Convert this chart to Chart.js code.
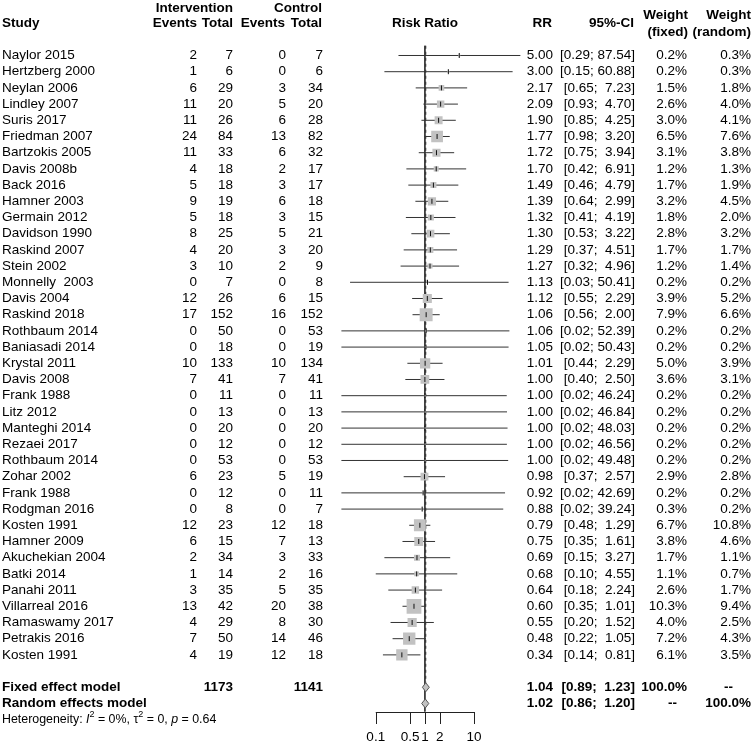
<!DOCTYPE html>
<html>
<head>
<meta charset="utf-8">
<script src="https://cdn.jsdelivr.net/npm/chart.js@4.4.1/dist/chart.umd.min.js"></script>
<style>
  html, body { margin: 0; padding: 0; background: #fff; }
  #wrap { width: 754px; height: 743px; position: relative; }
</style>
</head>
<body>
<div id="wrap"><canvas id="forest"></canvas></div>
<script>
// Study data, one entry per row (top to bottom)
const studies = ['Naylor 2015', 'Hertzberg 2000', 'Neylan 2006', 'Lindley 2007', 'Suris 2017', 'Friedman 2007',
  'Bartzokis 2005', 'Davis 2008b', 'Back 2016', 'Hamner 2003', 'Germain 2012', 'Davidson 1990', 'Raskind 2007',
  'Stein 2002', 'Monnelly  2003', 'Davis 2004', 'Raskind 2018', 'Rothbaum 2014', 'Baniasadi 2014', 'Krystal 2011',
  'Davis 2008', 'Frank 1988', 'Litz 2012', 'Manteghi 2014', 'Rezaei 2017', 'Rothbaum 2014', 'Zohar 2002',
  'Frank 1988', 'Rodgman 2016', 'Kosten 1991', 'Hamner 2009', 'Akuchekian 2004', 'Batki 2014', 'Panahi 2011',
  'Villarreal 2016', 'Ramaswamy 2017', 'Petrakis 2016', 'Kosten 1991'];
const evInt  = [2, 1, 6, 11, 11, 24, 11, 4, 5, 9, 5, 8, 4, 3, 0, 12, 17, 0, 0, 10, 7, 0, 0, 0, 0, 0, 6, 0, 0, 12, 6, 2, 1, 3, 13, 4, 7, 4];
const totInt = [7, 6, 29, 20, 26, 84, 33, 18, 18, 19, 18, 25, 20, 10, 7, 26, 152, 50, 18, 133, 41, 11, 13, 20, 12, 53, 23, 12, 8, 23, 15, 34, 14, 35, 42, 29, 50, 19];
const evCtl  = [0, 0, 3, 5, 6, 13, 6, 2, 3, 6, 3, 5, 3, 2, 0, 6, 16, 0, 0, 10, 7, 0, 0, 0, 0, 0, 5, 0, 0, 12, 7, 3, 2, 5, 20, 8, 14, 12];
const totCtl = [7, 6, 34, 20, 28, 82, 32, 17, 17, 18, 15, 21, 20, 9, 8, 15, 152, 53, 19, 134, 41, 11, 13, 20, 12, 53, 19, 11, 7, 18, 13, 33, 16, 35, 38, 30, 46, 18];
const rr     = [5.00, 3.00, 2.17, 2.09, 1.90, 1.77, 1.72, 1.70, 1.49, 1.39, 1.32, 1.30, 1.29, 1.27, 1.13, 1.12, 1.06, 1.06, 1.05, 1.01,
  1.00, 1.00, 1.00, 1.00, 1.00, 1.00, 0.98, 0.92, 0.88, 0.79, 0.75, 0.69, 0.68, 0.64, 0.60, 0.55, 0.48, 0.34];
const ciLow  = [0.29, 0.15, 0.65, 0.93, 0.85, 0.98, 0.75, 0.42, 0.46, 0.64, 0.41, 0.53, 0.37, 0.32, 0.03, 0.55, 0.56, 0.02, 0.02, 0.44,
  0.40, 0.02, 0.02, 0.02, 0.02, 0.02, 0.37, 0.02, 0.02, 0.48, 0.35, 0.15, 0.10, 0.18, 0.35, 0.20, 0.22, 0.14];
const ciHigh = [87.54, 60.88, 7.23, 4.70, 4.25, 3.20, 3.94, 6.91, 4.79, 2.99, 4.19, 3.22, 4.51, 4.96, 50.41, 2.29, 2.00, 52.39, 50.43, 2.29,
  2.50, 46.24, 46.84, 48.03, 46.56, 49.48, 2.57, 42.69, 39.24, 1.29, 1.61, 3.27, 4.55, 2.24, 1.01, 1.52, 1.05, 0.81];
const wFixed  = [0.2, 0.2, 1.5, 2.6, 3.0, 6.5, 3.1, 1.2, 1.7, 3.2, 1.8, 2.8, 1.7, 1.2, 0.2, 3.9, 7.9, 0.2, 0.2, 5.0,
  3.6, 0.2, 0.2, 0.2, 0.2, 0.2, 2.9, 0.2, 0.3, 6.7, 3.8, 1.7, 1.1, 2.6, 10.3, 4.0, 7.2, 6.1];
const wRandom = [0.3, 0.3, 1.8, 4.0, 4.1, 7.6, 3.8, 1.3, 1.9, 4.5, 2.0, 3.2, 1.7, 1.4, 0.2, 5.2, 6.6, 0.2, 0.2, 3.9,
  3.1, 0.2, 0.2, 0.2, 0.2, 0.2, 2.8, 0.2, 0.2, 10.8, 4.6, 1.1, 0.7, 1.7, 9.4, 2.5, 4.3, 3.5];

// Pooled estimates
const pooledLabels = ['Fixed effect model', 'Random effects model'];
const pooledRR   = [1.04, 1.02];
const pooledLow  = [0.89, 0.86];
const pooledHigh = [1.23, 1.20];
const totals = [1173, 1141];
const axisTicks = [0.1, 0.5, 1, 2, 10];

const nStudies = studies.length;
const fixedRow = nStudies + 2;
const randomRow = nStudies + 3;
const hetRow = nStudies + 4;
const axisRow = 41.5;

const FONT = '"Liberation Sans", Arial, Helvetica, sans-serif';
const FSIZE = '13.5px ';

function padLeft(s, n) {
    while (s.length < n) s = ' ' + s;
    return s;
}
function fmtCI(lo, hi) {
    return '[' + lo.toFixed(2) + '; ' + padLeft(hi.toFixed(2), 5) + ']';
}

// Datasets
const datasets = [];

// confidence interval lines
studies.forEach((s, i) => {
    datasets.push({
        type: 'line',
        data: [{ x: ciLow[i], y: i + 1 }, { x: ciHigh[i], y: i + 1 }],
        borderColor: '#333',
        borderWidth: 1,
        pointRadius: 0,
        order: 5
    });
});

// weight squares (area ~ fixed weight)
datasets.push({
    type: 'scatter',
    data: rr.map((v, i) => ({ x: v, y: i + 1 })),
    pointStyle: 'rect',
    pointRadius: rr.map((v, i) => 4.6 * Math.sqrt(wFixed[i]) / 1.414),
    backgroundColor: '#c2c2c2',
    borderWidth: 0,
    order: 3
});

// point estimate ticks
datasets.push({
    type: 'scatter',
    data: rr.map((v, i) => ({ x: v, y: i + 1 })),
    pointStyle: 'line',
    rotation: 90,
    pointRadius: 2.5,
    borderColor: '#111',
    borderWidth: 1,
    order: 1
});

// reference line at 1
datasets.push({
    type: 'line',
    data: [{ x: 1, y: 0.4 }, { x: 1, y: axisRow }],
    borderColor: '#333',
    borderWidth: 1,
    pointRadius: 0,
    order: 6
});

// fixed effect line
datasets.push({
    type: 'line',
    data: [{ x: pooledRR[0], y: 0.4 }, { x: pooledRR[0], y: fixedRow - 0.3 }],
    borderColor: '#111',
    borderWidth: 1,
    borderDash: [3, 3],
    pointRadius: 0,
    order: 6
});

// summary diamonds
[fixedRow, randomRow].forEach((row, k) => {
    const h = 0.28;
    datasets.push({
        type: 'line',
        data: [
            { x: pooledLow[k], y: row },
            { x: pooledRR[k], y: row - h },
            { x: pooledHigh[k], y: row },
            { x: pooledRR[k], y: row + h },
            { x: pooledLow[k], y: row }
        ],
        borderColor: '#555',
        borderWidth: 1,
        backgroundColor: '#c2c2c2',
        fill: 'shape',
        pointRadius: 0,
        tension: 0,
        order: 2
    });
});

// Table text and axis drawn with the chart scales
const tablePlugin = {
    id: 'tableText',
    afterDraw(chart) {
        const ctx = chart.ctx;
        const xs = chart.scales.x;
        const ys = chart.scales.y;
        const rowY = r => ys.getPixelForValue(r);

        ctx.save();
        ctx.fillStyle = '#000';
        ctx.textBaseline = 'middle';

        const txt = (s, x, y, align, bold) => {
            ctx.font = (bold ? 'bold ' : '') + FSIZE + FONT;
            ctx.textAlign = align;
            ctx.fillText(s, x, y);
        };

        // headers
        txt('Intervention', 233, 8, 'right', true);
        txt('Control', 322, 8, 'right', true);
        txt('Study', 2, rowY(-1), 'left', true);
        txt('Events', 197, rowY(-1), 'right', true);
        txt('Total', 233, rowY(-1), 'right', true);
        txt('Events', 285, rowY(-1), 'right', true);
        txt('Total', 322, rowY(-1), 'right', true);
        txt('Risk Ratio', xs.getPixelForValue(1), rowY(-1), 'center', true);
        txt('RR', 552, rowY(-1), 'right', true);
        txt('95%-CI', 634, rowY(-1), 'right', true);
        txt('Weight', 688, 15, 'right', true);
        txt('(fixed)', 688, 32, 'right', true);
        txt('Weight', 751, 15, 'right', true);
        txt('(random)', 751, 32, 'right', true);

        // study rows
        studies.forEach((s, i) => {
            const y = rowY(i + 1);
            txt(s, 2, y, 'left', false);
            txt(String(evInt[i]), 197, y, 'right', false);
            txt(String(totInt[i]), 233, y, 'right', false);
            txt(String(evCtl[i]), 286, y, 'right', false);
            txt(String(totCtl[i]), 323, y, 'right', false);
            txt(rr[i].toFixed(2), 553, y, 'right', false);
            txt(fmtCI(ciLow[i], ciHigh[i]), 635, y, 'right', false);
            txt(wFixed[i].toFixed(1) + '%', 687, y, 'right', false);
            txt(wRandom[i].toFixed(1) + '%', 751, y, 'right', false);
        });

        // pooled rows
        [fixedRow, randomRow].forEach((row, k) => {
            const y = rowY(row);
            txt(pooledLabels[k], 2, y, 'left', true);
            txt(pooledRR[k].toFixed(2), 553, y, 'right', true);
            txt(fmtCI(pooledLow[k], pooledHigh[k]), 635, y, 'right', true);
        });
        txt(String(totals[0]), 233, rowY(fixedRow), 'right', true);
        txt(String(totals[1]), 323, rowY(fixedRow), 'right', true);
        txt('100.0%', 687, rowY(fixedRow), 'right', true);
        txt('--', 733, rowY(fixedRow), 'right', true);
        txt('--', 677, rowY(randomRow), 'right', true);
        txt('100.0%', 751, rowY(randomRow), 'right', true);

        // heterogeneity line with italics and superscripts
        const hy = rowY(hetRow);
        const parts = [
            ['Heterogeneity: ', '12.4px', 0],
            ['I', 'italic 12.4px', 0],
            ['2', '9px', -5],
            [' = 0%, \u03c4', '12.4px', 0],
            ['2', '9px', -5],
            [' = 0, ', '12.4px', 0],
            ['p', 'italic 12.4px', 0],
            [' = 0.64', '12.4px', 0]
        ];
        let hx = 2;
        ctx.textAlign = 'left';
        parts.forEach(([s, f, dy]) => {
            ctx.font = f + ' ' + FONT;
            ctx.fillText(s, hx, hy + dy);
            hx += ctx.measureText(s).width;
        });

        // x axis
        const ay = rowY(axisRow);
        const x0 = xs.getPixelForValue(axisTicks[0]);
        const x1 = xs.getPixelForValue(axisTicks[axisTicks.length - 1]);
        ctx.strokeStyle = '#222';
        ctx.lineWidth = 1;
        ctx.beginPath();
        ctx.moveTo(x0, Math.round(ay) + 0.5);
        ctx.lineTo(x1, Math.round(ay) + 0.5);
        axisTicks.forEach(t => {
            const px = Math.round(xs.getPixelForValue(t)) + 0.5;
            ctx.moveTo(px, Math.round(ay));
            ctx.lineTo(px, Math.round(ay) + 12);
        });
        ctx.stroke();
        axisTicks.forEach(t => {
            txt(String(t), xs.getPixelForValue(t), ay + 26, 'center', false);
        });

        ctx.restore();
    }
};

const canvas = document.getElementById('forest');
new Chart(canvas.getContext('2d'), {
    type: 'scatter',
    data: { datasets: datasets },
    options: {
        responsive: true,
        maintainAspectRatio: false,
        animation: false,
        events: [],
        layout: { autoPadding: false, padding: { left: 326.6, right: 216, top: 0, bottom: 0 } },
        plugins: {
            legend: { display: false },
            tooltip: { enabled: false },
            title: { display: false }
        },
        scales: {
            x: { type: 'logarithmic', min: 0.01, max: 200, display: false },
            y: { type: 'linear', reverse: true, min: -2.426, max: 43.44, display: false }
        }
    },
    plugins: [tablePlugin]
});
</script>
</body>
</html>
